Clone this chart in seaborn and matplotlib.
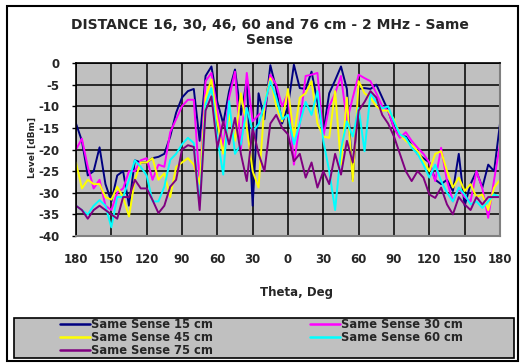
import numpy as np
import pandas as pd
import matplotlib
matplotlib.use("Agg")
import matplotlib.pyplot as plt
from matplotlib.patches import Rectangle
import seaborn as sns

theta = list(range(-180, 185, 5))

s15 = [-14, -18, -26, -25, -19.5, -28, -32, -26, -25, -33, -22.5, -23, -23, -22, -21.7, -21, -17, -11.5,
       -8, -6.5, -6, -18, -3, -0.8, -9, -14, -6.5, -1.5, -12, -4, -33, -7, -13, -0.5, -6, -14,
       -10, -0.4, -5.8, -6, -2, -9, -16, -7, -4, -0.8, -6, -27, -6, -5.8, -6, -5, -8,
       -11, -15, -17, -17, -19, -21, -22, -23, -27, -28, -27, -29.6, -21, -33, -28, -25, -28.8, -23.5, -25, -14]
s30 = [-20, -17.5, -24, -29, -27, -33, -34, -30, -29, -25, -25, -22.5, -22, -27, -23.5, -24, -16, -13,
       -10, -8.5, -8.5, -28, -4.2, -2.3, -11, -19.6, -8, -2, -20, -2.3, -13.5, -12, -11, -2.7, -5, -10,
       -7, -23.5, -14, -3, -2.7, -2.3, -17, -10, -7, -3, -13.5, -8, -2.7, -3.5, -4.2, -7, -10,
       -11, -15, -17.3, -16, -18, -19.6, -21, -23, -27.3, -19.6, -27.3, -32, -29, -31, -32, -25, -29, -35.8, -27, -18.8]
s45 = [-23, -29, -27, -28, -28, -31, -31.6, -28.6, -31, -35.5, -27, -23, -23, -22, -27, -25.5, -31, -24,
       -23, -22, -23.5, -28, -8, -3.8, -13.5, -21, -12, -18, -7, -15, -25, -28.8, -9.6, -3.5, -10, -13.5,
       -6, -17, -8, -7, -4.2, -14, -17, -17.3, -6.5, -23.5, -8, -27.3, -4.2, -7, -8, -10, -11,
       -11, -13, -16.5, -18, -19, -20.4, -22.7, -25, -21, -20.4, -25, -28.8, -26.5, -29.6, -28, -31, -30.4, -34, -28.8, -27]
s60 = [-33, -34, -35, -33, -31.7, -33, -38, -31, -31, -27, -22.5, -24, -26, -32, -32, -28.6, -22.4, -21,
       -18.8, -17.3, -18.5, -33, -9.6, -5.8, -17.3, -25.8, -8.8, -21, -18.8, -10.4, -15.8, -14.2, -9.6, -4.2, -8, -13,
       -12, -18.8, -14, -9, -12, -6.5, -18, -25, -34, -20, -13.5, -17, -10.4, -20.4, -7, -9, -10.5,
       -10, -13.5, -16.5, -17.3, -19.6, -21, -23.5, -26.5, -23.5, -27.3, -30, -32, -28.8, -30.4, -32.7, -32, -33.5, -32, -30.4, -31]
s75 = [-33, -34, -36, -34, -33, -34, -35, -36, -31, -31, -27, -29, -29, -31.7, -34.7, -33, -28.6, -27,
       -20, -19, -19.4, -34, -11, -7.7, -19.6, -13.5, -18.8, -12.7, -21, -27.3, -15, -21, -25, -14, -12, -15,
       -16.5, -22.7, -21, -26.5, -23, -28.8, -25, -28, -21, -25.8, -18, -23, -11, -9, -6.5, -8, -12,
       -14, -17, -21, -25, -27.3, -25, -26.5, -30.4, -31.2, -28.8, -32.7, -35, -31, -32.7, -34, -31, -32.7, -31, -31, -31]

labels = ["Same Sense 15 cm", "Same Sense 30 cm", "Same Sense 45 cm",
          "Same Sense 60 cm", "Same Sense 75 cm"]
colors = ["#000080", "#FF00FF", "#FFFF00", "#00FFFF", "#800080"]
xticks = list(range(-180, 181, 30))
xticklabels = [str(abs(v)) for v in xticks]
yticks = list(range(-40, 1, 5))

frames = []
for lab, vals in zip(labels, [s15, s30, s45, s60, s75]):
    frames.append(pd.DataFrame({"theta": theta, "level": vals, "series": lab}))
df = pd.concat(frames, ignore_index=True)

sns.set_theme(style="white")
plt.rcParams["font.family"] = ["DejaVu Sans"]
plt.rcParams["axes.unicode_minus"] = False

W, H = 520, 363
fig = plt.figure(figsize=(W / 100, H / 100), dpi=100)
fig.patch.set_facecolor("white")
ax = fig.add_axes([76 / W, 1 - 236 / H, 424 / W, 173 / H])
ax.set_facecolor("#C0C0C0")

sns.lineplot(data=df, x="theta", y="level", hue="series", hue_order=labels,
             palette=colors, linewidth=1.4, estimator=None, ax=ax, legend=True)

ax.set_xlim(-180, 180)
ax.set_ylim(-40, 0)
ax.set_xticks(xticks)
ax.set_xticklabels(xticklabels, fontsize=8.5, fontweight="bold")
ax.set_yticks(yticks)
ax.set_yticklabels([str(v) for v in yticks], fontsize=8.5, fontweight="bold")
ax.grid(True, color="black", linewidth=1.1)
ax.set_axisbelow(True)
ax.tick_params(axis="x", length=0, pad=12)
ax.tick_params(axis="y", length=3, width=1, color="black", pad=9, direction="out", left=True)
for side in ["left", "top"]:
    ax.spines[side].set_color("black")
    ax.spines[side].set_linewidth(1.2)
for side in ["right", "bottom"]:
    ax.spines[side].set_color("#808080")
    ax.spines[side].set_linewidth(1.5)

ax.set_xlabel("Theta, Deg", fontsize=8.5, fontweight="bold", labelpad=15)
ax.xaxis.set_label_coords(0.52, -0.29)
ax.set_ylabel("Level [dBm]", fontsize=6.5, fontweight="bold")
ax.yaxis.set_label_coords(-0.092, 0.51)

fig.text(270 / W, 1 - 18 / H,
         "DISTANCE 16, 30, 46, 60 and 76 cm - 2 MHz - Same\nSense",
         ha="center", va="top", fontsize=10, fontweight="bold", linespacing=1.08)

# Legend
handles, labs = ax.get_legend_handles_labels()
ax.get_legend().remove()
order = [0, 2, 4, 1, 3]
fig.patches.append(Rectangle((14 / W, 1 - 358 / H), 500 / W, 40 / H,
                             transform=fig.transFigure, facecolor="#C0C0C0",
                             edgecolor="black", linewidth=1.2, zorder=0))
leg = fig.legend([handles[i] for i in order], [labs[i] for i in order],
                 loc="upper left", bbox_to_anchor=(60 / W, 1 - 318 / H),
                 ncol=2, frameon=False, borderpad=0, borderaxespad=0,
                 handlelength=2.6, handletextpad=0.1, labelspacing=0.0,
                 columnspacing=8.4, prop={"weight": "bold", "size": 8.3})
for line in leg.get_lines():
    line.set_linewidth(1.8)

# Outer frame
fig.patches.append(Rectangle((7 / W, 1 - 361 / H), 511 / W, 355 / H,
                             transform=fig.transFigure, facecolor="none",
                             edgecolor="black", linewidth=1.5, zorder=0))

fig.savefig("out.png", dpi=100)
